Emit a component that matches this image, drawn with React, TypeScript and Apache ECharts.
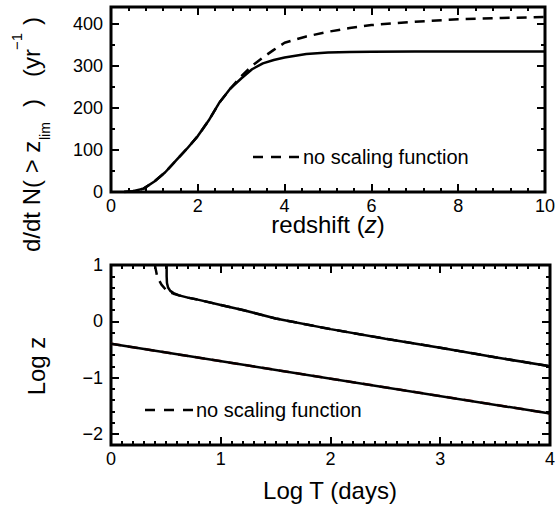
import { useEffect, useRef } from 'react';
import * as echarts from 'echarts';

// Upper panel: detection rate above the redshift limit
const redshift = [0.3, 0.5, 0.75, 1.0, 1.25, 1.5, 1.75, 2.0, 2.25, 2.5, 2.75, 3.0, 3.25, 3.5, 3.75, 4.0, 4.5, 5.0, 5.5, 6.0, 7.0, 8.0, 9.0, 10.0];
const rateScaled = [0, 2, 8, 25, 47, 75, 103, 133, 170, 213, 246, 270, 292, 306, 314, 320, 328, 332, 333, 333.5, 334, 334, 334, 334];
const rateNoScaling = [0, 2, 8, 25, 47, 75, 103, 133, 170, 213, 246, 275, 300, 320, 338, 355, 370, 381, 390, 397, 405, 411, 414, 416];

// Lower panel: limiting redshift against duration
const logTScaled = [0.507, 0.507, 0.51, 0.52, 0.54, 0.57, 0.62, 0.7, 0.8, 1.0, 1.2, 1.5, 2.0, 2.5, 3.0, 3.5, 4.0];
const logZScaled = [1.0, 0.8, 0.68, 0.6, 0.54, 0.5, 0.46, 0.42, 0.38, 0.29, 0.2, 0.05, -0.14, -0.31, -0.47, -0.64, -0.8];
const logTNoScaling = [0.4, 0.41, 0.42, 0.44, 0.46, 0.5, 0.54, 0.57, 0.62, 0.7, 0.8, 1.0, 1.2, 1.5, 2.0, 2.5, 3.0, 3.5, 4.0];
const logZNoScaling = [1.0, 0.9, 0.8, 0.72, 0.65, 0.56, 0.51, 0.49, 0.46, 0.42, 0.38, 0.29, 0.2, 0.05, -0.14, -0.31, -0.47, -0.64, -0.8];
const logTLower = [0, 4];
const logZLower = [-0.4, -1.64];

// Axis ranges: [min, max, labelled step]
const zRange = [0, 10, 2];
const zMinorStep = 0.4;
const rateRange = [0, 440];
const rateMajor = [0, 400, 100];
const rateMinorStep = 50;
const logTRange = [0, 4, 1];
const logTMinorStep = 0.1;
const logZRange = [-2.2, 1];
const logZMajor = [-2, 1, 1];
const logZMinorStep = 0.2;

const FONT = "'Liberation Sans', Arial, Helvetica, sans-serif";
const BLACK = '#000';
const MAJOR_LEN = 8;
const MINOR_LEN = 4;

const pairs = (xs: number[], ys: number[]) => xs.map((x, i) => [x, ys[i]]);
const minusFmt = (v: number) => (v < 0 ? '\u2212' + Math.abs(v) : String(v));
const steps = (from: number, to: number, step: number) => {
  const out: number[] = [];
  for (let i = 0; from + i * step <= to + 1e-9; i++) out.push(Math.round((from + i * step) * 1e6) / 1e6);
  return out;
};
const isOn = (v: number, from: number, step: number) => {
  const k = (v - from) / step;
  return Math.abs(k - Math.round(k)) < 1e-6;
};

const G0 = { left: 111, top: 7, width: 434, height: 185 };
const G1 = { left: 111, top: 265, width: 439, height: 180 };
// helper grids that carry the y labels (their ranges start on a labelled value)
const G2 = {
  left: G0.left,
  width: G0.width,
  top: G0.top + (G0.height * (rateRange[1] - rateMajor[1])) / (rateRange[1] - rateRange[0]),
  height: (G0.height * (rateMajor[1] - rateMajor[0])) / (rateRange[1] - rateRange[0]),
};
const G3 = {
  left: G1.left,
  width: G1.width,
  top: G1.top + (G1.height * (logZRange[1] - logZMajor[1])) / (logZRange[1] - logZRange[0]),
  height: (G1.height * (logZMajor[1] - logZMajor[0])) / (logZRange[1] - logZRange[0]),
};

// inward tick segments on all four sides, in data units of the panel's axes
function tickSegments(
  grid: { width: number; height: number },
  xr: number[],
  xMajor: number,
  xMinor: number,
  yr: number[],
  yTo: number,
  yMajorFrom: number,
  yMajor: number,
  yMinor: number,
) {
  const perPxX = (xr[1] - xr[0]) / grid.width;
  const perPxY = (yr[1] - yr[0]) / grid.height;
  const segs: { coords: number[][] }[] = [];
  steps(xr[0], xr[1], xMinor).forEach((v) => {
    const d = (isOn(v, xr[0], xMajor) ? MAJOR_LEN : MINOR_LEN) * perPxY;
    segs.push({ coords: [[v, yr[0]], [v, yr[0] + d]] });
    segs.push({ coords: [[v, yr[1]], [v, yr[1] - d]] });
  });
  steps(yr[0], yTo, yMinor).forEach((v) => {
    const d = (isOn(v, yMajorFrom, yMajor) ? MAJOR_LEN : MINOR_LEN) * perPxX;
    segs.push({ coords: [[xr[0], v], [xr[0] + d, v]] });
    segs.push({ coords: [[xr[1], v], [xr[1] - d, v]] });
  });
  return segs;
}

const noLine = () => ({ show: false, onZero: false });
const labelStyle = (margin: number, formatter?: (v: number) => string) => ({
  show: true,
  color: BLACK,
  fontSize: 18,
  fontFamily: FONT,
  margin,
  formatter,
});

function xAxis(gridIndex: number, min: number, max: number, interval: number, labels: boolean) {
  return {
    type: 'value',
    gridIndex,
    min,
    max,
    interval,
    show: labels,
    position: 'bottom',
    axisLine: noLine(),
    axisTick: { show: false },
    splitLine: { show: false },
    axisLabel: labels ? labelStyle(5) : { show: false },
  };
}

function yAxis(gridIndex: number, min: number, max: number, labels: boolean, interval?: number, fmt?: (v: number) => string) {
  return {
    type: 'value',
    gridIndex,
    min,
    max,
    interval,
    show: labels,
    position: 'left',
    axisLine: noLine(),
    axisTick: { show: false },
    splitLine: { show: false },
    axisLabel: labels ? labelStyle(8, fmt) : { show: false },
  };
}

function lineSeries(name: string, x: number, y: number, data: number[][], dashed: boolean, color = BLACK, z = 3) {
  return {
    name,
    type: 'line',
    xAxisIndex: x,
    yAxisIndex: y,
    data,
    showSymbol: false,
    symbol: 'none',
    z,
    lineStyle: { color, width: 2.5, type: dashed ? [10, 7] : 'solid' },
  };
}

function tickSeries(x: number, y: number, data: { coords: number[][] }[]) {
  return {
    type: 'lines',
    coordinateSystem: 'cartesian2d',
    xAxisIndex: x,
    yAxisIndex: y,
    silent: true,
    z: 5,
    polyline: false,
    symbol: ['none', 'none'],
    lineStyle: { color: BLACK, width: 2, opacity: 1, curveness: 0 },
    data,
  };
}

const textStyle = (text: string, size: number, extra: Record<string, unknown> = {}) => ({
  text,
  fill: BLACK,
  fontSize: size,
  fontFamily: FONT,
  ...extra,
});

export default function App() {
  const ref = useRef<HTMLDivElement>(null);

  useEffect(() => {
    if (!ref.current) return;
    const chart = echarts.init(ref.current, undefined, { renderer: 'svg' });

    const upperTitle = {
      type: 'group',
      x: 40,
      y: 252,
      rotation: Math.PI / 2,
      children: [
        { type: 'text', x: 0, y: -8.4, style: textStyle('d/dt N( > z', 24, { verticalAlign: 'middle' }) },
        { type: 'text', x: 112, y: 10 - 4.9, style: textStyle('lim', 14, { verticalAlign: 'middle' }) },
        { type: 'text', x: 145, y: -8.4, style: textStyle(')', 24, { verticalAlign: 'middle' }) },
        { type: 'text', x: 175, y: -8.4, style: textStyle('(yr', 24, { verticalAlign: 'middle' }) },
        { type: 'text', x: 202, y: -18 - 5.2, style: textStyle('\u22121', 15, { verticalAlign: 'middle' }) },
        { type: 'text', x: 227, y: -8.4, style: textStyle(')', 24, { verticalAlign: 'middle' }) },
      ],
    };

    const topTicks = tickSegments(G0, [zRange[0], zRange[1]], zRange[2], zMinorStep, rateRange, rateMajor[1], rateMajor[0], rateMajor[2], rateMinorStep);
    const bottomTicks = tickSegments(G1, [logTRange[0], logTRange[1]], logTRange[2], logTMinorStep, logZRange, logZRange[1], logZMajor[0], logZMajor[2], logZMinorStep);

    const option = {
      animation: false,
      backgroundColor: '#fff',
      grid: [G0, G1, G2, G3],
      xAxis: [
        xAxis(0, zRange[0], zRange[1], zRange[2], true),
        xAxis(1, logTRange[0], logTRange[1], logTRange[2], true),
        xAxis(2, zRange[0], zRange[1], zRange[2], false),
        xAxis(3, logTRange[0], logTRange[1], logTRange[2], false),
      ],
      yAxis: [
        yAxis(0, rateRange[0], rateRange[1], false),
        yAxis(1, logZRange[0], logZRange[1], false),
        yAxis(2, rateMajor[0], rateMajor[1], true, rateMajor[2]),
        yAxis(3, logZMajor[0], logZMajor[1], true, logZMajor[2], minusFmt),
      ],
      series: [
        lineSeries('no scaling function', 0, 0, pairs(redshift, rateNoScaling), true, BLACK, 2),
        lineSeries('scaling function', 0, 0, pairs(redshift, rateScaled), false),
        lineSeries('no scaling function', 1, 1, pairs(logTNoScaling, logZNoScaling), true, BLACK, 2),
        lineSeries('no scaling function', 1, 1, pairs(logTLower, logZLower), true, '#7a1a1a', 2),
        lineSeries('scaling function', 1, 1, pairs(logTScaled, logZScaled), false),
        lineSeries('scaling function', 1, 1, pairs(logTLower, logZLower), false),
        tickSeries(0, 0, topTicks),
        tickSeries(1, 1, bottomTicks),
      ],
      graphic: [
        // plot frames
        { type: 'rect', shape: { x: G0.left, y: G0.top, width: G0.width, height: G0.height }, style: { fill: 'none', stroke: BLACK, lineWidth: 3 } },
        { type: 'rect', shape: { x: G1.left, y: G1.top, width: G1.width, height: G1.height }, style: { fill: 'none', stroke: BLACK, lineWidth: 3 } },
        // axis titles
        upperTitle,
        {
          type: 'text',
          x: 328,
          y: 224,
          style: {
            text: '{n|redshift (}{i|z}{n|)}',
            align: 'center',
            verticalAlign: 'middle',
            rich: {
              n: { fontSize: 24, fontFamily: FONT, fill: BLACK },
              i: { fontSize: 24, fontFamily: FONT, fontStyle: 'italic', fill: BLACK },
            },
          },
        },
        {
          type: 'text',
          x: 36,
          y: 366,
          rotation: Math.PI / 2,
          style: textStyle('Log z', 24, { align: 'center', verticalAlign: 'middle' }),
        },
        {
          type: 'text',
          x: 330,
          y: 490,
          style: textStyle('Log T (days)', 24, { align: 'center', verticalAlign: 'middle' }),
        },
        // legends
        { type: 'line', shape: { x1: 253, y1: 157, x2: 299, y2: 157 }, style: { stroke: BLACK, lineWidth: 2.5, lineDash: [10, 8] } },
        { type: 'text', x: 303, y: 157, style: textStyle('no scaling function', 20, { verticalAlign: 'middle' }) },
        { type: 'line', shape: { x1: 145, y1: 410, x2: 193, y2: 410 }, style: { stroke: BLACK, lineWidth: 2.5, lineDash: [10, 9] } },
        { type: 'text', x: 196, y: 410, style: textStyle('no scaling function', 20, { verticalAlign: 'middle' }) },
      ],
    };

    chart.setOption(option as any);
    return () => chart.dispose();
  }, []);

  return <div ref={ref} style={{ position: 'fixed', left: 0, top: 0, width: 558, height: 510, background: '#fff' }} />;
}
